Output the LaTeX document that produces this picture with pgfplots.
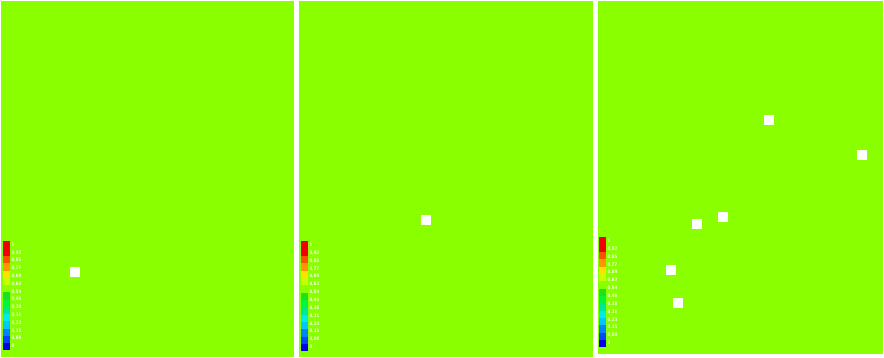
\documentclass[border=0pt]{standalone}
\usepackage{pgfplots}
\pgfplotsset{compat=1.18}
\usetikzlibrary{calc}
\definecolor{field}{RGB}{138,255,0}
\pgfplotsset{
 panel/.style={
   scale only axis, anchor=south west,
   axis line style={draw=none}, ticks=none, y dir=reverse,
   axis background/.style={fill=field},
   colormap={bands}{rgb255=(0,0,230) rgb255=(0,70,255) rgb255=(0,130,255) rgb255=(0,200,255)
     rgb255=(0,235,235) rgb255=(0,230,150) rgb255=(0,245,60) rgb255=(30,225,30)
     rgb255=(138,255,0) rgb255=(200,255,0) rgb255=(255,225,0) rgb255=(255,150,0)
     rgb255=(255,80,0) rgb255=(240,0,0) rgb255=(240,0,0)},
   colormap access=piecewise constant,
   point meta min=-0.0384615, point meta max=1.0384615,
   colorbar,
 },
 cbar/.style={
   scale only axis, anchor=south west, width=8bp, y dir=normal,
   axis background/.style={},
   axis line style={draw=none}, major tick length=0pt,
   xtick=\empty,
   ytick={0,0.0769231,0.1538462,0.2307692,0.3076923,0.3846154,0.4615385,0.5384615,0.6153846,0.6923077,0.7692308,0.8461538,0.9230769,1},
   yticklabel pos=right,
   yticklabel style={/pgf/number format/fixed, /pgf/number format/precision=2,
     /pgf/number format/use comma, /pgf/number format/assume math mode=true,
     font=\sffamily\bfseries\fontsize{5}{5.5}\selectfont, text=white, inner sep=0.8bp},
 },
}
\begin{document}
\begin{tikzpicture}
\useasboundingbox (0,0) rectangle (884bp,358bp);
\fill[white] (0,0) rectangle (884bp,358bp);
% panel 1
\begin{axis}[panel, at={(1bp,1bp)}, width=293bp, height=356bp,
  xmin=1, xmax=294, ymin=1, ymax=357,
  colorbar style={cbar, at={($(parent axis.south west)+(-7bp,7bp)$)}, height=109bp}]
\addplot[only marks, mark=square*, mark size=4.5bp, mark options={fill=white, draw=white}]
  coordinates {(74.5,271.5)};
\end{axis}
% panel 2
\begin{axis}[panel, at={(299bp,1bp)}, width=294bp, height=356bp,
  xmin=299, xmax=593, ymin=1, ymax=357,
  colorbar style={cbar, at={($(parent axis.south west)+(-7bp,6bp)$)}, height=110bp}]
\addplot[only marks, mark=square*, mark size=4.5bp, mark options={fill=white, draw=white}]
  coordinates {(425.5,219.5)};
\end{axis}
% panel 3
\begin{axis}[panel, at={(598bp,4bp)}, width=285bp, height=353bp,
  xmin=598, xmax=883, ymin=1, ymax=354,
  colorbar style={cbar, at={($(parent axis.south west)+(-8bp,7bp)$)}, height=110bp}]
\addplot[only marks, mark=square*, mark size=4.5bp, mark options={fill=white, draw=white}]
  coordinates {(768.5,119.5) (861.5,154.5) (696.5,223.5) (722.5,217) (670.5,269.5) (677.5,302.5)};
\end{axis}
\end{tikzpicture}
\end{document}
